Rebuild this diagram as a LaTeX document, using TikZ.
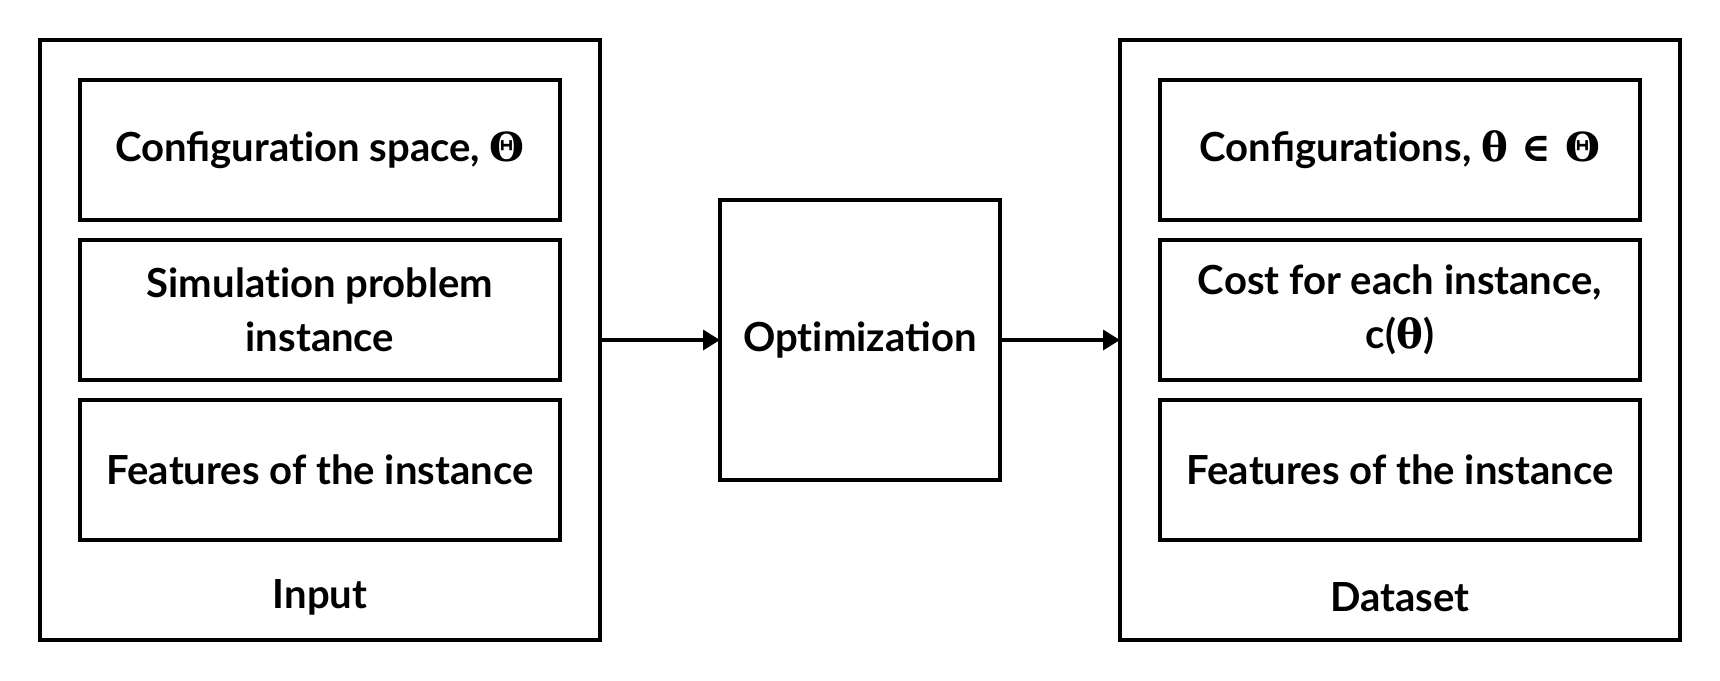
\documentclass[tikz,border=0pt]{standalone}
\usepackage{fontspec}
\setmainfont{Lato}
\newfontfamily\symfont{DejaVu Serif}
\newcommand\gr[1]{{\symfont#1}}
\newcommand\ti{t\kern0pt i}
\usetikzlibrary{arrows.meta,positioning}

\begin{document}
\begin{tikzpicture}[
  font=\bfseries\fontsize{11.4}{15.4}\selectfont,
  line width=0.95pt,
  group/.style={draw, outer sep=0pt, minimum width=5.6cm, minimum height=6cm},
  part/.style={draw, outer sep=0pt, align=center,
    minimum width=4.8cm, minimum height=1.4cm},
  flow/.style={-{Triangle[length=0.17cm,width=0.2cm]}},
]
\useasboundingbox (0,0) rectangle (17.2,6.8);
% input side
\node[group] (input) at (3.2,3.4) {};
\node[part, below=0.4cm of input.north] (space) {Configura\ti on space, \gr{Θ}};
\node[part, below=0.2cm of space] (problem) {Simula\ti on problem\\instance};
\node[part, below=0.2cm of problem] (infeat) {Features of the instance};
\node (inlbl) at ([yshift=0.43cm]input.south) {Input};
% optimization
\node[draw, outer sep=0pt, minimum size=2.8cm] (optim) at (8.6,3.4) {Op\ti mization};
% dataset side
\node[group] (data) at (14,3.4) {};
\node[part, below=0.4cm of data.north] (configs) {Configura\ti ons, \gr{θ ∈ Θ}};
\node[part, below=0.2cm of configs] (cost) {Cost for each instance,\\c(\gr{θ})};
\node[part, below=0.2cm of cost] (outfeat) {Features of the instance};
\node (datlbl) at ([yshift=0.43cm]data.south) {Dataset};
\draw[flow] (input) -- (optim);
\draw[flow] (optim) -- (data);
\end{tikzpicture}
\end{document}
